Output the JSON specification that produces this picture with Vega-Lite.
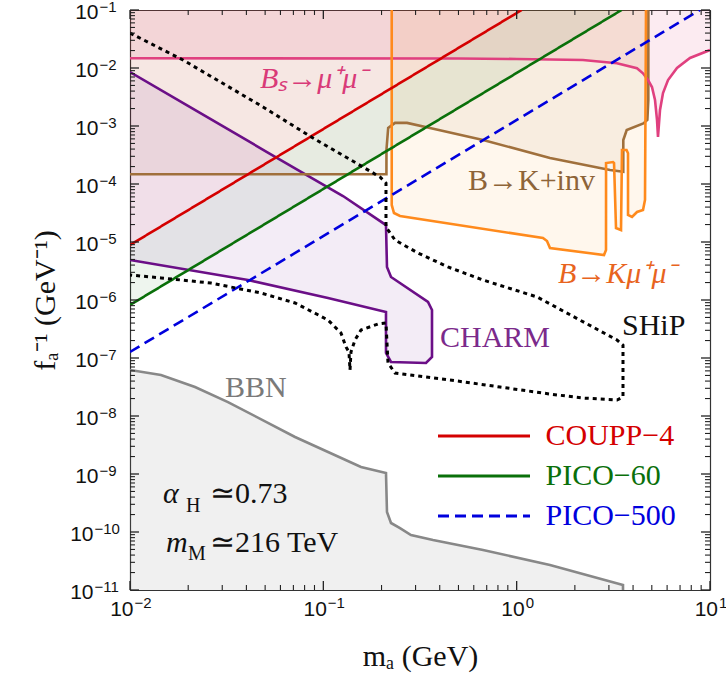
{
"$schema": "https://vega.github.io/schema/vega-lite/v6.json",
"width": 580, "height": 580,
"autosize": {"type": "none"},
"padding": {"left": 130, "top": 10, "right": 16, "bottom": 91},
"background": "white",
"config": {"view": {"stroke": null}, "axis": {"zindex": 1, "grid": false}},
"datasets": {
"bbn": [{"x":0.01,"y":6.21e-8},{"x":0.01446,"y":5.09e-8},{"x":0.02169,"y":3.16e-8},{"x":0.03212,"y":1.74e-8},{"x":0.0714,"y":4.35e-9},{"x":0.1566,"y":1.32e-9},{"x":0.2109,"y":1.04e-9},{"x":0.2134,"y":2.21e-10},{"x":0.2239,"y":1.43e-10},{"x":0.2492,"y":1.17e-10},{"x":0.284,"y":8.88e-11},{"x":0.3692,"y":7.28e-11},{"x":0.67,"y":4.9e-11},{"x":1.487,"y":2.7e-11},{"x":3.548,"y":1.22e-11},{"x":3.549,"y":1e-11}],
"bs": [{"x":0.01,"y":0.0147},{"x":0.5,"y":0.0146},{"x":1.0,"y":0.0143},{"x":2.2,"y":0.0137},{"x":3.3,"y":0.0121},{"x":4.19,"y":0.0099},{"x":4.5,"y":0.0081},{"x":4.78,"y":0.0062},{"x":5.01,"y":0.0047},{"x":5.195,"y":0.0028},{"x":5.32,"y":0.00127},{"x":5.383,"y":0.00065},{"x":5.514,"y":0.00189},{"x":5.714,"y":0.0037},{"x":6.066,"y":0.0062},{"x":6.75,"y":0.01},{"x":7.88,"y":0.0149},{"x":10,"y":0.0204}],
"inv": [{"x":0.01,"y":1.47e-4},{"x":0.212,"y":1.47e-4},{"x":0.2121,"y":3.9e-4},{"x":0.2165,"y":9.25e-4},{"x":0.2348,"y":1.13e-3},{"x":0.271,"y":1.13e-3},{"x":0.356,"y":9.25e-4},{"x":0.67,"y":5.74e-4},{"x":1.487,"y":2.81e-4},{"x":3.04,"y":1.74e-4},{"x":3.56,"y":1.63e-4},{"x":3.561,"y":5.74e-4},{"x":3.709,"y":8.53e-4},{"x":4.52,"y":1.11e-3},{"x":4.742,"y":1.27e-3},{"x":4.797,"y":2.81e-3},{"x":4.8,"y":0.1}],
"kmm": [{"x":0.2258,"y":0.1},{"x":0.2258,"y":4.35e-5},{"x":0.232,"y":3.16e-5},{"x":0.2492,"y":2.81e-5},{"x":1.368,"y":1.17e-5},{"x":1.435,"y":1.04e-5},{"x":1.487,"y":7.88e-6},{"x":2.83,"y":5.97e-6},{"x":2.898,"y":7.28e-6},{"x":2.9,"y":2.3e-4},{"x":3.151,"y":2.39e-4},{"x":3.189,"y":2.3e-4},{"x":3.265,"y":1.74e-5},{"x":3.465,"y":1.61e-5},{"x":3.506,"y":3.86e-4},{"x":3.7,"y":3.86e-4},{"x":3.766,"y":3.38e-4},{"x":3.767,"y":2.92e-5},{"x":3.951,"y":2.7e-5},{"x":4.193,"y":3.29e-5},{"x":4.503,"y":3.56e-5},{"x":4.611,"y":5.3e-5},{"x":4.667,"y":0.1}],
"charmArea": [{"x":0.01,"lo":4.9e-6,"hi":8.53e-3},{"x":0.02302,"lo":3.05e-6,"hi":1.68e-3},{"x":0.04076,"lo":2.21e-6,"hi":5.51e-4},{"x":0.05112,"lo":1.87e-6,"hi":3.56e-4},{"x":0.074,"lo":1.43e-6,"hi":1.74e-4},{"x":0.1057,"lo":1.08e-6,"hi":8.77e-5},{"x":0.1264,"lo":9.42e-7,"hi":6.21e-5},{"x":0.2084,"lo":6.21e-7,"hi":2.0e-5},{"x":0.2109,"lo":6.21e-7,"hi":1.96e-5},{"x":0.211,"lo":1.22e-7,"hi":1.9e-5},{"x":0.2134,"lo":1.0e-7,"hi":3.71e-6},{"x":0.2239,"lo":8.53e-8,"hi":2.49e-6},{"x":0.3396,"lo":8.2e-8,"hi":9.73e-7},{"x":0.3478,"lo":8.53e-8,"hi":9.24e-7},{"x":0.3648,"lo":1.04e-7,"hi":6.72e-7}],
"charmLine": [{"x":0.01,"y":8.53e-3},{"x":0.02302,"y":1.68e-3},{"x":0.05112,"y":3.56e-4},{"x":0.074,"y":1.74e-4},{"x":0.1264,"y":6.21e-5},{"x":0.2109,"y":1.96e-5},{"x":0.2134,"y":3.71e-6},{"x":0.2239,"y":2.49e-6},{"x":0.3478,"y":9.24e-7},{"x":0.3648,"y":6.72e-7},{"x":0.3648,"y":1.04e-7},{"x":0.3396,"y":8.2e-8},{"x":0.2239,"y":8.53e-8},{"x":0.2109,"y":1.22e-7},{"x":0.2109,"y":6.21e-7},{"x":0.1057,"y":1.08e-6},{"x":0.04076,"y":2.21e-6},{"x":0.01,"y":4.9e-6}],
"ship": [{"x":0.01,"y":0.0401},{"x":0.01879,"y":0.01374},{"x":0.04875,"y":2.13e-3},{"x":0.0884,"y":6.21e-4},{"x":0.1604,"y":1.96e-4},{"x":0.1964,"y":1.32e-4},{"x":0.2109,"y":1.04e-4},{"x":0.2109,"y":1.81e-5},{"x":0.2348,"y":1.08e-5},{"x":0.3088,"y":6.46e-6},{"x":0.4412,"y":3.71e-6},{"x":0.67,"y":2.21e-6},{"x":1.274,"y":1.13e-6},{"x":3.304,"y":2.04e-7},{"x":3.548,"y":1.67e-7},{"x":3.548,"y":2.13e-8},{"x":3.304,"y":1.89e-8},{"x":2.203,"y":2.04e-8},{"x":1.487,"y":2.39e-8},{"x":0.82,"y":3.16e-8},{"x":0.4519,"y":4.18e-8},{"x":0.2348,"y":5.51e-8},{"x":0.216,"y":8.2e-8},{"x":0.2109,"y":4.01e-7},{"x":0.1918,"y":3.86e-7},{"x":0.1566,"y":3.04e-7},{"x":0.1458,"y":2.04e-7},{"x":0.139,"y":1.27e-7},{"x":0.1374,"y":6.21e-8},{"x":0.1357,"y":1.27e-7},{"x":0.131,"y":1.55e-7},{"x":0.1234,"y":2.7e-7},{"x":0.1057,"y":4.52e-7},{"x":0.0714,"y":8.88e-7},{"x":0.0476,"y":1.32e-6},{"x":0.02624,"y":1.96e-6},{"x":0.01446,"y":2.4e-6},{"x":0.01,"y":2.7e-6}],
"dd": [{"series":"COUPP−4","x":0.01,"y":8.87e-6},{"series":"COUPP−4","x":1.062,"y":0.1},{"series":"PICO−60","x":0.01,"y":8.2e-7},{"series":"PICO−60","x":3.49,"y":0.1},{"series":"PICO−500","x":0.01,"y":1.27e-7},{"series":"PICO−500","x":8.87,"y":0.1}],
"greenBand": [{"x":0.01,"lo":8.2e-7,"hi":8.87e-6},{"x":1.062,"lo":9.25e-3,"hi":0.1},{"x":3.49,"lo":0.1,"hi":0.1}],
"xMaj": [{"v":0.01},{"v":0.1},{"v":1},{"v":10}],
"xMin": [{"v":0.02},{"v":0.03},{"v":0.04},{"v":0.05},{"v":0.06},{"v":0.07},{"v":0.08},{"v":0.09},{"v":0.2},{"v":0.3},{"v":0.4},{"v":0.5},{"v":0.6},{"v":0.7},{"v":0.8},{"v":0.9},{"v":2},{"v":3},{"v":4},{"v":5},{"v":6},{"v":7},{"v":8},{"v":9}],
"yMaj": [{"v":1e-11},{"v":1e-10},{"v":1e-9},{"v":1e-8},{"v":1e-7},{"v":1e-6},{"v":1e-5},{"v":1e-4},{"v":1e-3},{"v":1e-2},{"v":1e-1}],
"yMin": [{"v":2e-11},{"v":3e-11},{"v":4e-11},{"v":5e-11},{"v":6e-11},{"v":7e-11},{"v":8e-11},{"v":9e-11},{"v":2e-10},{"v":3e-10},{"v":4e-10},{"v":5e-10},{"v":6e-10},{"v":7e-10},{"v":8e-10},{"v":9e-10},{"v":2e-9},{"v":3e-9},{"v":4e-9},{"v":5e-9},{"v":6e-9},{"v":7e-9},{"v":8e-9},{"v":9e-9},{"v":2e-8},{"v":3e-8},{"v":4e-8},{"v":5e-8},{"v":6e-8},{"v":7e-8},{"v":8e-8},{"v":9e-8},{"v":2e-7},{"v":3e-7},{"v":4e-7},{"v":5e-7},{"v":6e-7},{"v":7e-7},{"v":8e-7},{"v":9e-7},{"v":2e-6},{"v":3e-6},{"v":4e-6},{"v":5e-6},{"v":6e-6},{"v":7e-6},{"v":8e-6},{"v":9e-6},{"v":2e-5},{"v":3e-5},{"v":4e-5},{"v":5e-5},{"v":6e-5},{"v":7e-5},{"v":8e-5},{"v":9e-5},{"v":2e-4},{"v":3e-4},{"v":4e-4},{"v":5e-4},{"v":6e-4},{"v":7e-4},{"v":8e-4},{"v":9e-4},{"v":2e-3},{"v":3e-3},{"v":4e-3},{"v":5e-3},{"v":6e-3},{"v":7e-3},{"v":8e-3},{"v":9e-3},{"v":2e-2},{"v":3e-2},{"v":4e-2},{"v":5e-2},{"v":6e-2},{"v":7e-2},{"v":8e-2},{"v":9e-2}]
},
"resolve": {"axis": {"x": "independent", "y": "independent"}},
"layer": [
{"data": {"name": "bbn"}, "mark": {"type": "area", "color": "#808080", "fillOpacity": 0.12, "clip": true},
 "encoding": {
  "x": {"field": "x", "type": "quantitative", "scale": {"type": "log", "domain": [0.01, 10], "nice": false},
   "axis": {"orient": "bottom", "values": [0.01, 0.1], "labelExpr": "'10'", "ticks": false, "domainColor": "#333", "domainWidth": 1.2, "labelFont": "Liberation Sans", "labelFontSize": 21, "labelColor": "#111", "labelAlign": "right", "labelOffset": 3, "labelPadding": 8, "labelFlush": false, "labelOverlap": false, "labelBound": false, "title": "mₐ (GeV)", "titleFont": "Liberation Serif", "titleFontSize": 30, "titleFontWeight": "normal", "titleColor": "#111", "titleX": 290, "titleY": 66, "titleBaseline": "middle"}},
  "y": {"field": "y", "type": "quantitative", "scale": {"type": "log", "domain": [1e-11, 0.1], "nice": false},
   "axis": {"orient": "left", "values": [1e-9, 1e-8, 1e-7, 1e-6, 1e-5, 1e-4, 1e-3, 1e-2, 1e-1], "labelExpr": "'10'", "ticks": false, "domainColor": "#333", "domainWidth": 1.2, "labelFont": "Liberation Sans", "labelFontSize": 21, "labelColor": "#111", "labelAlign": "right", "labelBaseline": "middle", "labelPadding": 32, "labelOffset": 2, "labelFlush": false, "labelOverlap": false, "labelBound": false, "title": "fₐ⁻¹ (GeV⁻¹)", "titleFont": "Liberation Serif", "titleFontSize": 30, "titleFontWeight": "normal", "titleColor": "#111", "titleX": -85, "titleY": 290, "titleAngle": -90, "titleAlign": "center", "titleBaseline": "middle"}},
  "y2": {"datum": 1e-11}}},
{"data": {"name": "bs"}, "mark": {"type": "area", "color": "#e0407f", "fillOpacity": 0.105, "clip": true},
 "encoding": {
  "x": {"field": "x", "type": "quantitative", "scale": {"type": "log", "domain": [0.01, 10], "nice": false},
   "axis": {"orient": "bottom", "values": [0.01, 0.1], "labelExpr": "'−' + format(-round(log(datum.value)/LN10), 'd')", "ticks": false, "domain": false, "labelFont": "Liberation Sans", "labelFontSize": 15, "labelColor": "#111", "labelAlign": "left", "labelOffset": 4, "labelPadding": 5, "labelFlush": false, "labelOverlap": false, "labelBound": false, "title": null}},
  "y": {"field": "y", "type": "quantitative", "scale": {"type": "log", "domain": [1e-11, 0.1], "nice": false},
   "axis": {"orient": "left", "values": [1e-9, 1e-8, 1e-7, 1e-6, 1e-5, 1e-4, 1e-3, 1e-2, 1e-1], "labelExpr": "'−' + format(-round(log(datum.value)/LN10), 'd')", "ticks": false, "domain": false, "labelFont": "Liberation Sans", "labelFontSize": 15, "labelColor": "#111", "labelAlign": "left", "labelBaseline": "middle", "labelPadding": 31, "labelOffset": -4, "labelFlush": false, "labelOverlap": false, "labelBound": false, "title": null}},
  "y2": {"datum": 0.1}}},
{"data": {"name": "inv"}, "mark": {"type": "area", "color": "#a0703c", "fillOpacity": 0.07, "clip": true},
 "encoding": {
  "x": {"field": "x", "type": "quantitative", "scale": {"type": "log", "domain": [0.01, 10], "nice": false},
   "axis": {"orient": "bottom", "values": [1, 10], "labelExpr": "'10'", "ticks": false, "domain": false, "labelFont": "Liberation Sans", "labelFontSize": 21, "labelColor": "#111", "labelAlign": "right", "labelOffset": 7.5, "labelPadding": 8, "labelFlush": false, "labelOverlap": false, "labelBound": false, "title": null}},
  "y": {"field": "y", "type": "quantitative", "scale": {"type": "log", "domain": [1e-11, 0.1], "nice": false},
   "axis": {"orient": "left", "values": [1e-11, 1e-10], "labelExpr": "'10'", "ticks": false, "domain": false, "labelFont": "Liberation Sans", "labelFontSize": 21, "labelColor": "#111", "labelAlign": "right", "labelBaseline": "middle", "labelPadding": 37, "labelOffset": 2, "labelFlush": false, "labelOverlap": false, "labelBound": false, "title": null}},
  "y2": {"datum": 0.1}}},
{"data": {"name": "kmm"}, "mark": {"type": "area", "color": "#ff8c00", "fillOpacity": 0.07, "clip": true},
 "encoding": {
  "x": {"field": "x", "type": "quantitative", "scale": {"type": "log", "domain": [0.01, 10], "nice": false},
   "axis": {"orient": "bottom", "values": [1, 10], "labelExpr": "format(round(log(datum.value)/LN10), 'd')", "ticks": false, "domain": false, "labelFont": "Liberation Sans", "labelFontSize": 15, "labelColor": "#111", "labelAlign": "left", "labelOffset": 8.5, "labelPadding": 5, "labelFlush": false, "labelOverlap": false, "labelBound": false, "title": null}},
  "y": {"field": "y", "type": "quantitative", "scale": {"type": "log", "domain": [1e-11, 0.1], "nice": false},
   "axis": {"orient": "left", "values": [1e-11, 1e-10], "labelExpr": "'−' + format(-round(log(datum.value)/LN10), 'd')", "ticks": false, "domain": false, "labelFont": "Liberation Sans", "labelFontSize": 15, "labelColor": "#111", "labelAlign": "left", "labelBaseline": "middle", "labelPadding": 36, "labelOffset": -4, "labelFlush": false, "labelOverlap": false, "labelBound": false, "title": null}},
  "y2": {"datum": 0.1}}},
{"data": {"name": "dd"}, "transform": [{"filter": "datum.series === 'COUPP−4'"}], "mark": {"type": "area", "color": "#d40000", "fillOpacity": 0.055, "clip": true},
 "encoding": {
  "x": {"field": "x", "type": "quantitative", "scale": {"type": "log", "domain": [0.01, 10], "nice": false},
   "axis": {"orient": "top", "values": [0.01, 10], "labels": false, "ticks": false, "domainColor": "#333", "domainWidth": 1.2, "title": null}},
  "y": {"field": "y", "type": "quantitative", "scale": {"type": "log", "domain": [1e-11, 0.1], "nice": false},
   "axis": {"orient": "right", "values": [1e-11, 0.1], "labels": false, "ticks": false, "domainColor": "#333", "domainWidth": 1.2, "title": null}},
  "y2": {"datum": 0.1}}},
{"data": {"name": "greenBand"}, "mark": {"type": "area", "color": "#0a700a", "fillOpacity": 0.07, "clip": true},
 "encoding": {
  "x": {"field": "x", "type": "quantitative", "scale": {"type": "log", "domain": [0.01, 10], "nice": false}, "axis": null},
  "y": {"field": "lo", "type": "quantitative", "scale": {"type": "log", "domain": [1e-11, 0.1], "nice": false}, "axis": null},
  "y2": {"field": "hi"}}},
{"data": {"name": "charmArea"}, "mark": {"type": "area", "color": "#6a0a8a", "fillOpacity": 0.08, "clip": true},
 "encoding": {
  "x": {"field": "x", "type": "quantitative", "scale": {"type": "log", "domain": [0.01, 10], "nice": false}, "axis": null},
  "y": {"field": "lo", "type": "quantitative", "scale": {"type": "log", "domain": [1e-11, 0.1], "nice": false}, "axis": null},
  "y2": {"field": "hi"}}},
{"data": {"name": "bbn"}, "mark": {"type": "line", "color": "#888888", "strokeWidth": 2.6, "clip": true},
 "encoding": {
  "x": {"field": "x", "type": "quantitative", "scale": {"type": "log", "domain": [0.01, 10], "nice": false}, "axis": null},
  "y": {"field": "y", "type": "quantitative", "scale": {"type": "log", "domain": [1e-11, 0.1], "nice": false}, "axis": null},
  "order": {"value": null}}},
{"data": {"name": "charmLine"}, "mark": {"type": "line", "color": "#6b0f87", "strokeWidth": 2.6, "clip": true},
 "encoding": {
  "x": {"field": "x", "type": "quantitative", "scale": {"type": "log", "domain": [0.01, 10], "nice": false}, "axis": null},
  "y": {"field": "y", "type": "quantitative", "scale": {"type": "log", "domain": [1e-11, 0.1], "nice": false}, "axis": null},
  "order": {"value": null}}},
{"data": {"name": "inv"}, "mark": {"type": "line", "color": "#a0703c", "strokeWidth": 2.6, "clip": true},
 "encoding": {
  "x": {"field": "x", "type": "quantitative", "scale": {"type": "log", "domain": [0.01, 10], "nice": false}, "axis": null},
  "y": {"field": "y", "type": "quantitative", "scale": {"type": "log", "domain": [1e-11, 0.1], "nice": false}, "axis": null},
  "order": {"value": null}}},
{"data": {"name": "bs"}, "mark": {"type": "line", "color": "#e0407f", "strokeWidth": 2.6, "clip": true},
 "encoding": {
  "x": {"field": "x", "type": "quantitative", "scale": {"type": "log", "domain": [0.01, 10], "nice": false}, "axis": null},
  "y": {"field": "y", "type": "quantitative", "scale": {"type": "log", "domain": [1e-11, 0.1], "nice": false}, "axis": null},
  "order": {"value": null}}},
{"data": {"name": "kmm"}, "mark": {"type": "line", "color": "#ff8a1c", "strokeWidth": 2.6, "clip": true},
 "encoding": {
  "x": {"field": "x", "type": "quantitative", "scale": {"type": "log", "domain": [0.01, 10], "nice": false}, "axis": null},
  "y": {"field": "y", "type": "quantitative", "scale": {"type": "log", "domain": [1e-11, 0.1], "nice": false}, "axis": null},
  "order": {"value": null}}},
{"data": {"name": "dd"}, "mark": {"type": "line", "strokeWidth": 2.6, "clip": true},
 "encoding": {
  "x": {"field": "x", "type": "quantitative", "scale": {"type": "log", "domain": [0.01, 10], "nice": false}, "axis": null},
  "y": {"field": "y", "type": "quantitative", "scale": {"type": "log", "domain": [1e-11, 0.1], "nice": false}, "axis": null},
  "color": {"field": "series", "type": "nominal", "scale": {"domain": ["COUPP−4", "PICO−60", "PICO−500"], "range": ["#d40000", "#0a700a", "#0000dd"]},
   "legend": {"orient": "none", "legendX": 306.5, "legendY": 406, "title": null, "symbolType": "stroke", "symbolSize": 8464, "symbolStrokeWidth": 3, "clipHeight": 40, "rowPadding": 0, "padding": 0, "labelFont": "Liberation Serif", "labelFontSize": 30, "labelOffset": 14, "labelLimit": 400, "labelBaseline": "middle", "encode": {"labels": {"update": {"fill": {"signal": "scale('color', datum.value)"}}}}}},
  "strokeDash": {"field": "series", "type": "nominal", "scale": {"domain": ["COUPP−4", "PICO−60", "PICO−500"], "range": [[1, 0], [1, 0], [11, 6]]},
   "legend": {"orient": "none", "legendX": 306.5, "legendY": 406, "title": null, "symbolType": "stroke", "symbolSize": 8464, "symbolStrokeWidth": 3, "clipHeight": 40, "rowPadding": 0, "padding": 0, "labelFont": "Liberation Serif", "labelFontSize": 30, "labelOffset": 14, "labelLimit": 400, "labelBaseline": "middle", "encode": {"labels": {"update": {"fill": {"signal": "scale('color', datum.value)"}}}}}}}},
{"data": {"name": "ship"}, "mark": {"type": "line", "color": "#000000", "strokeWidth": 3, "strokeDash": [4, 4], "clip": true},
 "encoding": {
  "x": {"field": "x", "type": "quantitative", "scale": {"type": "log", "domain": [0.01, 10], "nice": false}, "axis": null},
  "y": {"field": "y", "type": "quantitative", "scale": {"type": "log", "domain": [1e-11, 0.1], "nice": false}, "axis": null},
  "order": {"value": null}}},
{"data": {"name": "xMaj"}, "mark": {"type": "rule", "color": "#222222", "strokeWidth": 1.3},
 "encoding": {"x": {"field": "v", "type": "quantitative", "scale": {"type": "log", "domain": [0.01, 10], "nice": false}, "axis": null}, "y": {"datum": 1e-11, "type": "quantitative", "scale": {"type": "log", "domain": [1e-11, 0.1], "nice": false}, "axis": null}, "y2": {"datum": 1.43e-11}}},
{"data": {"name": "xMaj"}, "mark": {"type": "rule", "color": "#222222", "strokeWidth": 1.3},
 "encoding": {"x": {"field": "v", "type": "quantitative", "scale": {"type": "log", "domain": [0.01, 10], "nice": false}, "axis": null}, "y": {"datum": 0.1, "type": "quantitative", "scale": {"type": "log", "domain": [1e-11, 0.1], "nice": false}, "axis": null}, "y2": {"datum": 0.0699}}},
{"data": {"name": "xMin"}, "mark": {"type": "rule", "color": "#222222", "strokeWidth": 1.1},
 "encoding": {"x": {"field": "v", "type": "quantitative", "scale": {"type": "log", "domain": [0.01, 10], "nice": false}, "axis": null}, "y": {"datum": 1e-11, "type": "quantitative", "scale": {"type": "log", "domain": [1e-11, 0.1], "nice": false}, "axis": null}, "y2": {"datum": 1.22e-11}}},
{"data": {"name": "xMin"}, "mark": {"type": "rule", "color": "#222222", "strokeWidth": 1.1},
 "encoding": {"x": {"field": "v", "type": "quantitative", "scale": {"type": "log", "domain": [0.01, 10], "nice": false}, "axis": null}, "y": {"datum": 0.1, "type": "quantitative", "scale": {"type": "log", "domain": [1e-11, 0.1], "nice": false}, "axis": null}, "y2": {"datum": 0.082}}},
{"data": {"name": "yMaj"}, "mark": {"type": "rule", "color": "#222222", "strokeWidth": 1.3},
 "encoding": {"y": {"field": "v", "type": "quantitative", "scale": {"type": "log", "domain": [1e-11, 0.1], "nice": false}, "axis": null}, "x": {"datum": 0.01, "type": "quantitative", "scale": {"type": "log", "domain": [0.01, 10], "nice": false}, "axis": null}, "x2": {"datum": 0.01113}}},
{"data": {"name": "yMaj"}, "mark": {"type": "rule", "color": "#222222", "strokeWidth": 1.3},
 "encoding": {"y": {"field": "v", "type": "quantitative", "scale": {"type": "log", "domain": [1e-11, 0.1], "nice": false}, "axis": null}, "x": {"datum": 10, "type": "quantitative", "scale": {"type": "log", "domain": [0.01, 10], "nice": false}, "axis": null}, "x2": {"datum": 8.98}}},
{"data": {"name": "yMin"}, "mark": {"type": "rule", "color": "#222222", "strokeWidth": 1.1},
 "encoding": {"y": {"field": "v", "type": "quantitative", "scale": {"type": "log", "domain": [1e-11, 0.1], "nice": false}, "axis": null}, "x": {"datum": 0.01, "type": "quantitative", "scale": {"type": "log", "domain": [0.01, 10], "nice": false}, "axis": null}, "x2": {"datum": 0.01061}}},
{"data": {"name": "yMin"}, "mark": {"type": "rule", "color": "#222222", "strokeWidth": 1.1},
 "encoding": {"y": {"field": "v", "type": "quantitative", "scale": {"type": "log", "domain": [1e-11, 0.1], "nice": false}, "axis": null}, "x": {"datum": 10, "type": "quantitative", "scale": {"type": "log", "domain": [0.01, 10], "nice": false}, "axis": null}, "x2": {"datum": 9.42}}},
{"data": {"values": [{"label": "Bₛ→μ⁺μ⁻", "x": 0.047, "y": 4.52e-3}]}, "mark": {"type": "text", "font": "Liberation Serif", "fontStyle": "italic", "fontSize": 30, "align": "left", "baseline": "alphabetic", "color": "#d93a78"},
 "encoding": {"x": {"field": "x", "type": "quantitative", "scale": {"type": "log", "domain": [0.01, 10], "nice": false}, "axis": null}, "y": {"field": "y", "type": "quantitative", "scale": {"type": "log", "domain": [1e-11, 0.1], "nice": false}, "axis": null}, "text": {"field": "label"}}},
{"data": {"values": [{"label": "B→K+inv", "x": 0.56, "y": 7.88e-5}]}, "mark": {"type": "text", "font": "Liberation Serif", "fontSize": 30, "align": "left", "baseline": "alphabetic", "color": "#8e6438"},
 "encoding": {"x": {"field": "x", "type": "quantitative", "scale": {"type": "log", "domain": [0.01, 10], "nice": false}, "axis": null}, "y": {"field": "y", "type": "quantitative", "scale": {"type": "log", "domain": [1e-11, 0.1], "nice": false}, "axis": null}, "text": {"field": "label"}}},
{"data": {"values": [{"label": "B→Kμ⁺μ⁻", "x": 1.636, "y": 1.96e-6}]}, "mark": {"type": "text", "font": "Liberation Serif", "fontStyle": "italic", "fontSize": 30, "align": "left", "baseline": "alphabetic", "color": "#e8641e"},
 "encoding": {"x": {"field": "x", "type": "quantitative", "scale": {"type": "log", "domain": [0.01, 10], "nice": false}, "axis": null}, "y": {"field": "y", "type": "quantitative", "scale": {"type": "log", "domain": [1e-11, 0.1], "nice": false}, "axis": null}, "text": {"field": "label"}}},
{"data": {"values": [{"label": "CHARM", "x": 0.4014, "y": 1.55e-7}]}, "mark": {"type": "text", "font": "Liberation Serif", "fontSize": 30, "align": "left", "baseline": "alphabetic", "color": "#7b2a8b"},
 "encoding": {"x": {"field": "x", "type": "quantitative", "scale": {"type": "log", "domain": [0.01, 10], "nice": false}, "axis": null}, "y": {"field": "y", "type": "quantitative", "scale": {"type": "log", "domain": [1e-11, 0.1], "nice": false}, "axis": null}, "text": {"field": "label"}}},
{"data": {"values": [{"label": "SHiP", "x": 3.506, "y": 2.49e-7}]}, "mark": {"type": "text", "font": "Liberation Serif", "fontSize": 30, "align": "left", "baseline": "alphabetic", "color": "#111111"},
 "encoding": {"x": {"field": "x", "type": "quantitative", "scale": {"type": "log", "domain": [0.01, 10], "nice": false}, "axis": null}, "y": {"field": "y", "type": "quantitative", "scale": {"type": "log", "domain": [1e-11, 0.1], "nice": false}, "axis": null}, "text": {"field": "label"}}},
{"data": {"values": [{"label": "BBN", "x": 0.031, "y": 2.13e-8}]}, "mark": {"type": "text", "font": "Liberation Serif", "fontSize": 30, "align": "left", "baseline": "alphabetic", "color": "#7a7a7a"},
 "encoding": {"x": {"field": "x", "type": "quantitative", "scale": {"type": "log", "domain": [0.01, 10], "nice": false}, "axis": null}, "y": {"field": "y", "type": "quantitative", "scale": {"type": "log", "domain": [1e-11, 0.1], "nice": false}, "axis": null}, "text": {"field": "label"}}},
{"data": {"values": [{"label": "α", "x": 0.01482, "y": 3.16e-10}, {"label": "m", "x": 0.01536, "y": 4.52e-11}]}, "mark": {"type": "text", "font": "Liberation Serif", "fontStyle": "italic", "fontSize": 30, "align": "left", "baseline": "alphabetic", "color": "#111111"},
 "encoding": {"x": {"field": "x", "type": "quantitative", "scale": {"type": "log", "domain": [0.01, 10], "nice": false}, "axis": null}, "y": {"field": "y", "type": "quantitative", "scale": {"type": "log", "domain": [1e-11, 0.1], "nice": false}, "axis": null}, "text": {"field": "label"}}},
{"data": {"values": [{"label": "H", "x": 0.01949, "y": 2.21e-10}, {"label": "M", "x": 0.01995, "y": 3.29e-11}]}, "mark": {"type": "text", "font": "Liberation Serif", "fontSize": 20, "align": "left", "baseline": "alphabetic", "color": "#111111"},
 "encoding": {"x": {"field": "x", "type": "quantitative", "scale": {"type": "log", "domain": [0.01, 10], "nice": false}, "axis": null}, "y": {"field": "y", "type": "quantitative", "scale": {"type": "log", "domain": [1e-11, 0.1], "nice": false}, "axis": null}, "text": {"field": "label"}}},
{"data": {"values": [{"label": "≃0.73", "x": 0.02593, "y": 3.16e-10}, {"label": "≃216 TeV", "x": 0.02593, "y": 4.52e-11}]}, "mark": {"type": "text", "font": "Liberation Serif", "fontSize": 30, "align": "left", "baseline": "alphabetic", "color": "#111111"},
 "encoding": {"x": {"field": "x", "type": "quantitative", "scale": {"type": "log", "domain": [0.01, 10], "nice": false}, "axis": null}, "y": {"field": "y", "type": "quantitative", "scale": {"type": "log", "domain": [1e-11, 0.1], "nice": false}, "axis": null}, "text": {"field": "label"}}}
]
}
